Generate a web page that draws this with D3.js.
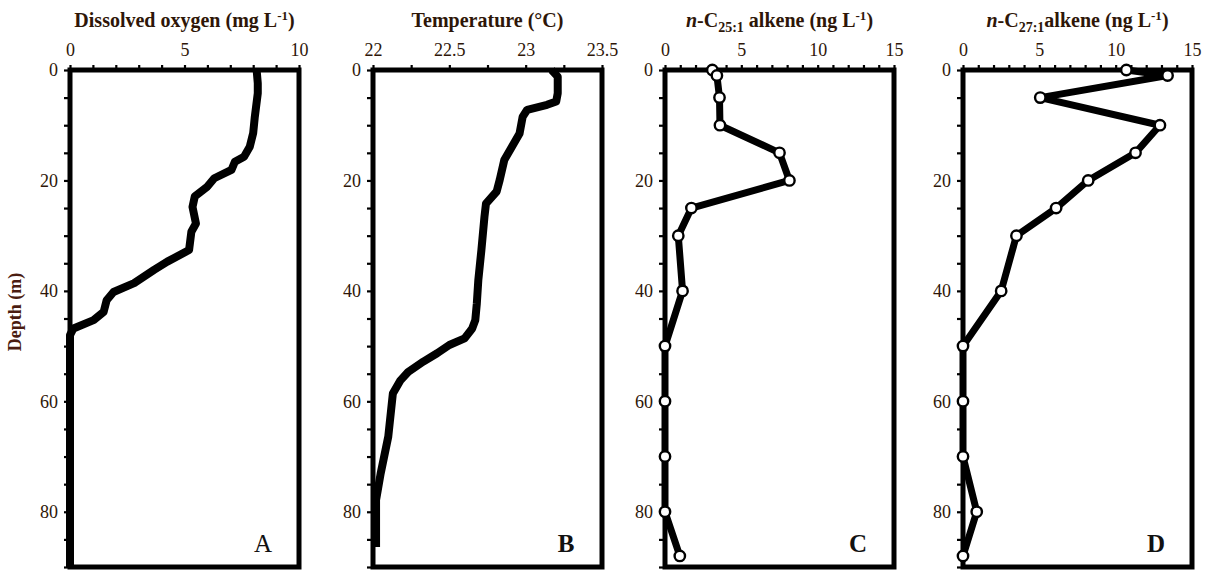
<!DOCTYPE html>
<html>
<head>
<meta charset="utf-8">
<script src="https://cdn.jsdelivr.net/npm/d3@7"></script>
<style>
  html, body { margin: 0; padding: 0; background: #fff; }
  svg text { font-family: "Liberation Serif", "Times New Roman", serif; }
</style>
</head>
<body>
<svg id="chart" width="1210" height="575"></svg>
<script>
// Depth profiles (m) and measured values
const doDepth = [0, 2.4, 4.2, 8.5, 11.4, 13.9, 15.7, 16.6, 18.1, 19.6, 21.1, 22.9, 24.8, 27.8, 29.3, 32.6, 34.7, 36.2, 38.6, 40.2, 41.7, 43.8, 45.3, 46.8, 48, 90];
const doValue = [8.15, 8.2, 8.2, 8.07, 8.0, 7.85, 7.6, 7.2, 7.05, 6.3, 6.0, 5.45, 5.35, 5.5, 5.3, 5.2, 4.25, 3.67, 2.8, 1.9, 1.6, 1.47, 1.03, 0.15, 0, 0];

const tempDepth = [0, 1.2, 4.2, 5.7, 6.3, 7.2, 8.5, 11.5, 13.9, 16.3, 19.9, 22, 24.2, 26.6, 32.6, 38, 42.3, 45.3, 46.8, 48.6, 49.8, 51.3, 52.8, 54.7, 56.2, 58.6, 66.4, 73.1, 77.9, 86.4];
const tempValue = [23.17, 23.21, 23.21, 23.2, 23.14, 23.01, 22.98, 22.96, 22.91, 22.86, 22.83, 22.81, 22.74, 22.73, 22.71, 22.69, 22.68, 22.67, 22.65, 22.6, 22.5, 22.42, 22.33, 22.23, 22.18, 22.13, 22.1, 22.05, 22.02, 22.02];

const sampleDepth = [0, 1, 5, 10, 15, 20, 25, 30, 40, 50, 60, 70, 80, 88];
const c25Value = [3.1, 3.4, 3.57, 3.6, 7.5, 8.15, 1.73, 0.87, 1.15, 0, 0, 0, 0, 0.97];
const c27Value = [10.7, 13.4, 5.06, 12.9, 11.3, 8.2, 6.1, 3.5, 2.5, 0, 0, 0, 0.9, 0];

const depthLabels = [0, 20, 40, 60, 80];
const oxygenTicks = [0, 5, 10];
const tempTicks = [22, 22.5, 23, 23.5];
const alkeneTicks = [0, 5, 10, 15];

const textColor = "#2e1608";
const svg = d3.select("#chart");

const y = d3.scaleLinear().domain([0, 90]).range([70, 567]);

const panels = [
  { left: 70, domain: [0, 10], minor: 1, labels: oxygenTicks, fmt: d3.format("d"),
    depth: doDepth, values: doValue, markers: false, letter: "A", letterWeight: "normal",
    title: [{ t: "Dissolved oxygen (mg L" }, { t: "-1", sup: true }, { t: ")" }] },
  { left: 373, domain: [22, 23.5], minor: 0.25, labels: tempTicks, fmt: d => String(d),
    depth: tempDepth, values: tempValue, markers: false, letter: "B", letterWeight: "bold",
    title: [{ t: "Temperature (°C)" }] },
  { left: 665, domain: [0, 15], minor: 1, labels: alkeneTicks, fmt: d3.format("d"),
    depth: sampleDepth, values: c25Value, markers: true, letter: "C", letterWeight: "bold",
    title: [{ t: "n", it: true }, { t: "-C" }, { t: "25:1", sub: true }, { t: " alkene (ng L" }, { t: "-1", sup: true }, { t: ")" }] },
  { left: 963, domain: [0, 15], minor: 1, labels: alkeneTicks, fmt: d3.format("d"),
    depth: sampleDepth, values: c27Value, markers: true, letter: "D", letterWeight: "bold",
    title: [{ t: "n", it: true }, { t: "-C" }, { t: "27:1", sub: true }, { t: "alkene (ng L" }, { t: "-1", sup: true }, { t: ")" }] }
];

const panelWidth = 229;

panels.forEach(p => {
  const x = d3.scaleLinear().domain(p.domain).range([p.left, p.left + panelWidth]);
  const g = svg.append("g");
  const [y0, y1] = y.range();

  // minor ticks on the top axis
  const minorVals = d3.range(p.domain[0], p.domain[1] + p.minor / 2, p.minor);
  const topAxis = g.append("g").attr("transform", `translate(0,${y0})`)
    .call(d3.axisTop(x).tickValues(minorVals).tickSize(5).tickFormat(""));
  topAxis.select(".domain").remove();
  topAxis.selectAll("line").attr("stroke", "#000").attr("stroke-width", 2.2);

  // top axis labels
  const topLabels = g.append("g").attr("transform", `translate(0,${y0})`)
    .call(d3.axisTop(x).tickValues(p.labels).tickSize(0).tickPadding(14).tickFormat(p.fmt));
  topLabels.select(".domain").remove();
  topLabels.selectAll("text").attr("font-size", 18).attr("fill", textColor)
    .style("font-family", "'Liberation Serif', serif");

  // depth axis
  const leftAxis = g.append("g").attr("transform", `translate(${p.left},0)`)
    .call(d3.axisLeft(y).tickValues(d3.range(0, 91, 5)).tickSize(6).tickPadding(6)
      .tickFormat(d => depthLabels.includes(d) ? d : ""));
  leftAxis.select(".domain").remove();
  leftAxis.selectAll("line").attr("stroke", "#000").attr("stroke-width", 2.2);
  leftAxis.selectAll("text").attr("font-size", 18).attr("fill", textColor)
    .style("font-family", "'Liberation Serif', serif");

  // profile line
  const pts = p.depth.map((d, i) => [p.values[i], d]);
  g.append("path")
    .datum(pts)
    .attr("fill", "none")
    .attr("stroke", "#000")
    .attr("stroke-width", p.markers ? 7 : 8)
    .attr("stroke-linejoin", "round")
    .attr("stroke-linecap", "butt")
    .attr("d", d3.line().x(d => x(d[0])).y(d => y(d[1])));

  // plot frame
  g.append("rect")
    .attr("x", p.left).attr("y", y0)
    .attr("width", panelWidth).attr("height", y1 - y0)
    .attr("fill", "none").attr("stroke", "#000").attr("stroke-width", 5);

  if (p.markers) {
    g.selectAll("circle.pt").data(pts).join("circle")
      .attr("class", "pt")
      .attr("cx", d => x(d[0])).attr("cy", d => y(d[1]))
      .attr("r", 5.2)
      .attr("fill", "#fff").attr("stroke", "#000").attr("stroke-width", 2.4);
  }

  // panel title
  const title = g.append("text")
    .attr("x", p.left + panelWidth / 2).attr("y", 27)
    .attr("text-anchor", "middle")
    .attr("font-size", 20).attr("font-weight", "bold").attr("fill", textColor);
  let shift = 0;
  p.title.forEach(part => {
    const ts = title.append("tspan").text(part.t);
    let dy = 0;
    if (part.sub) { dy = 5 - shift; shift = 5; ts.attr("font-size", 14); }
    else if (part.sup) { dy = -7 - shift; shift = -7; ts.attr("font-size", 13); }
    else { dy = -shift; shift = 0; }
    if (dy) ts.attr("dy", dy);
    if (part.it) ts.attr("font-style", "italic").attr("font-weight", "bold");
  });

  // panel letter
  g.append("text")
    .attr("x", p.left + panelWidth - 36).attr("y", 552)
    .attr("text-anchor", "middle")
    .attr("font-size", 25).attr("font-weight", p.letterWeight)
    .attr("fill", "#111")
    .text(p.letter);
});

// shared depth axis title
svg.append("text")
  .attr("transform", "translate(21,312) rotate(-90)")
  .attr("text-anchor", "middle")
  .attr("font-size", 18).attr("font-weight", "bold")
  .attr("fill", "#4a1c10")
  .text("Depth (m)");
</script>
</body>
</html>
